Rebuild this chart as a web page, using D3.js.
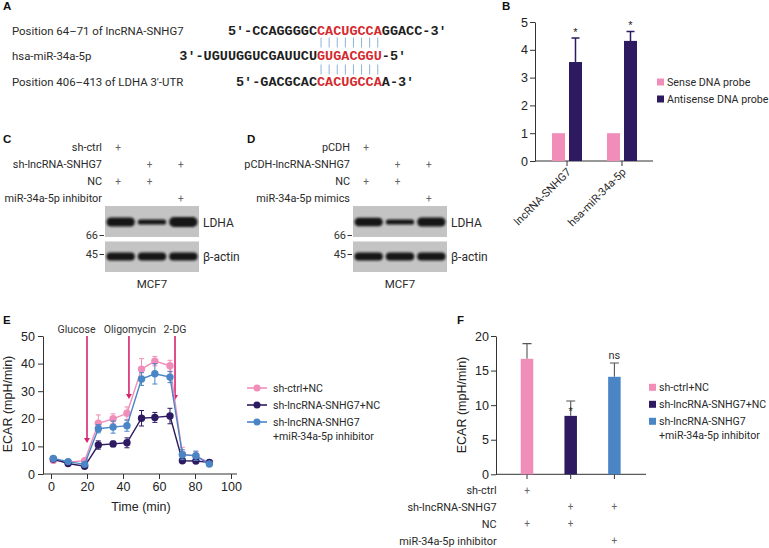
<!DOCTYPE html>
<html><head><meta charset="utf-8">
<script src="https://cdn.jsdelivr.net/npm/d3@7"></script>
<style>body{margin:0;background:#fff} svg{display:block}</style>
</head><body>
<svg id="chart" width="769" height="548"></svg>
<script>
// ================= DATA =================
// Panel A
const seqLabels = ["Position 64–71 of lncRNA-SNHG7", "hsa-miR-34a-5p", "Position 406–413 of LDHA 3′-UTR"];
const seqPrefix = ["5′-CCAGGGGC", "3′-UGUUGGUCGAUUCU", "5′-GACGCAC"];
const seqSeed   = ["CACUGCCA", "GUGACGGU", "CACUGCCA"];
const seqSuffix = ["GGACC-3′", "-5′", "A-3′"];

// Panel B
const bCategories = ["lncRNA-SNHG7", "hsa-miR-34a-5p"];
const bSeries = ["Sense DNA probe", "Antisense DNA probe"];
const bSense = [1, 1];
const bAntisense = [3.56, 4.32];
const bAntisenseErr = [0.86, 0.34];
const bSig = ["*", "*"];
const bTicks = [0, 1, 2, 3, 4, 5];

// Panels C / D (western blots)
const cRows = ["sh-ctrl", "sh-lncRNA-SNHG7", "NC", "miR-34a-5p inhibitor"];
const cPlus = [[1,0,0],[0,1,1],[1,1,0],[0,0,1]];
const cLDHA = [1.0, 0.58, 1.1];
const cActin = [0.95, 0.95, 0.95];
const dRows = ["pCDH", "pCDH-lncRNA-SNHG7", "NC", "miR-34a-5p mimics"];
const dPlus = [[1,0,0],[0,1,1],[1,1,0],[0,0,1]];
const dLDHA = [0.95, 0.58, 1.0];
const dActin = [0.95, 0.95, 0.95];
const blotProteins = ["LDHA", "β-actin"];
const blotMarkers = ["66", "45"];
const cellLine = "MCF7";

// Panel E
const eTime = [1.3, 9.5, 18.7, 26.3, 34.5, 42.2, 50.3, 57.7, 66.1, 73, 80.5, 88];
const eCtrl    = [5.0, 4.3, 4.8, 18.4, 20.0, 22.0, 38.0, 40.9, 39.2, 7.2, 6.5, 4.1];
const eCtrlErr = [1.0, 0.6, 0.7, 3.0, 1.8, 2.3, 3.8, 1.7, 2.0, 2.5, 1.5, 0.6];
const eSh      = [5.4, 3.8, 2.8, 10.5, 10.9, 11.3, 20.2, 20.5, 21.0, 4.8, 4.7, 4.2];
const eShErr   = [0.8, 0.5, 0.6, 1.5, 1.0, 1.8, 2.8, 1.8, 2.8, 0.5, 0.5, 0.5];
const eInh     = [5.6, 4.5, 3.5, 16.4, 17.0, 17.5, 34.4, 36.3, 35.1, 7.0, 6.6, 3.6];
const eInhErr  = [0.8, 0.6, 0.6, 1.5, 2.2, 2.0, 2.3, 3.7, 2.0, 1.8, 1.7, 0.7];
const eNames = ["sh-ctrl+NC", "sh-lncRNA-SNHG7+NC", "sh-lncRNA-SNHG7\n+miR-34a-5p inhibitor"];
const eInjections = ["Glucose", "Oligomycin", "2-DG"];
const eInjTime = [20, 43.3, 68.9];
const eArrowTip = [11.2, 27.2, 26.8];
const eXTicks = [0, 20, 40, 60, 80, 100];
const eYTicks = [0, 10, 20, 30, 40, 50];

// Panel F
const fGroups = ["sh-ctrl+NC", "sh-lncRNA-SNHG7+NC", "sh-lncRNA-SNHG7\n+miR-34a-5p inhibitor"];
const fValues = [16.7, 8.45, 14.1];
const fErr = [2.2, 2.15, 2.0];
const fSig = ["", "*", "ns"];
const fRows = ["sh-ctrl", "sh-lncRNA-SNHG7", "NC", "miR-34a-5p inhibitor"];
const fPlus = [[1,0,0],[0,1,1],[1,1,0],[0,0,1]];
const fYTicks = [0, 5, 10, 15, 20];

// ================= STYLE =================
const PINK = "#F08DB9", NAVY = "#2D1A60", BLUE = "#4A85C6", MAGENTA = "#D8246E", RED = "#D42A2E";
const SANS = "Roboto, 'Noto Sans', 'DejaVu Sans', sans-serif";
const ARIAL = "'Liberation Sans', Arial, sans-serif";
const MONO = "'Liberation Mono', 'Courier New', monospace";
const TXT = "#2a2a2a";
const fmtInt = d3.format("d");

const svg = d3.select("#chart");
const defs = svg.append("defs");
defs.append("filter").attr("id","blur").attr("x","-20%").attr("y","-60%").attr("width","140%").attr("height","220%")
  .append("feGaussianBlur").attr("stdDeviation", 1.1);

function letter(t, x, y) {
  svg.append("text").attr("x", x).attr("y", y).text(t)
    .attr("font-family", ARIAL).attr("font-weight", "bold").attr("font-size", 11.5).attr("fill", "#111");
}
function styleAxis(g, fs) {
  g.attr("font-family", ARIAL).attr("font-size", fs);
  g.select(".domain").attr("stroke", "#333").attr("stroke-width", 1);
  g.selectAll(".tick line").attr("stroke", "#333");
  g.selectAll(".tick text").attr("fill", "#222");
}
function label(g, t, x, y, opts = {}) {
  return g.append("text").attr("x", x).attr("y", y).text(t)
    .attr("font-family", opts.font || SANS).attr("font-size", opts.size || 10.8)
    .attr("fill", opts.fill || TXT).attr("text-anchor", opts.anchor || "start");
}

// ================= PANEL A =================
letter("A", 3, 10);
{
  const g = svg.append("g");
  const seedX = 317, charW = 8.1;
  const base = [34.5, 60, 85.5];
  seqLabels.forEach((lab, i) => {
    label(g, lab, 12, base[i], { size: 11.4 });
    const chars = [];
    const pre = [...seqPrefix[i]];
    pre.forEach((c, k) => chars.push({ c, idx: k - pre.length, red: false }));
    [...seqSeed[i]].forEach((c, k) => chars.push({ c, idx: k, red: true }));
    [...seqSuffix[i]].forEach((c, k) => chars.push({ c, idx: 8 + k, red: false }));
    g.append("g").selectAll("text").data(chars).join("text")
      .attr("x", d => seedX + (d.idx + 0.5) * charW).attr("y", base[i])
      .attr("text-anchor", "middle").text(d => d.c)
      .attr("font-family", MONO).attr("font-weight", "bold").attr("font-size", 13.5)
      .attr("fill", d => d.red ? RED : "#1e1e1e");
  });
  const pairs = [[37.5, 47.5], [64.5, 74.5]];
  pairs.forEach(([y1, y2]) => {
    g.append("g").selectAll("line").data(d3.range(seqSeed[0].length)).join("line")
      .attr("x1", k => seedX + (k + 0.5) * charW).attr("x2", k => seedX + (k + 0.5) * charW)
      .attr("y1", y1).attr("y2", y2).attr("stroke", "#8DB3D9").attr("stroke-width", 1);
  });
}

// ================= PANEL B =================
letter("B", 502, 10);
{
  const g = svg.append("g");
  const y = d3.scaleLinear().domain([0, 5]).range([161, 22]);
  const x = d3.scaleBand().domain(bCategories).range([539.5, 649.5]);
  const x1 = d3.scaleBand().domain(bSeries).range([-15, 15]).paddingInner(0.235);
  const ya = g.append("g").attr("transform", "translate(535,0)")
    .call(d3.axisLeft(y).tickValues(bTicks).tickFormat(fmtInt).tickSize(5).tickPadding(2).tickSizeOuter(0));
  styleAxis(ya, 12.5);
  g.append("line").attr("x1", 535).attr("x2", 653).attr("y1", 161).attr("y2", 161).attr("stroke", "#333");
  g.selectAll(".xt").data(bCategories).join("line").attr("class", "xt")
    .attr("x1", d => x(d) + x.bandwidth() / 2).attr("x2", d => x(d) + x.bandwidth() / 2)
    .attr("y1", 161).attr("y2", 166).attr("stroke", "#333");
  g.selectAll(".xl").data(bCategories).join("text").attr("class", "xl")
    .attr("transform", d => `translate(${x(d) + x.bandwidth() / 2 + 2},${170}) rotate(-45)`)
    .attr("text-anchor", "end").attr("dy", "0.35em").text(d => d)
    .attr("font-family", SANS).attr("font-size", 11).attr("fill", TXT);
  const bars = [];
  bCategories.forEach((c, i) => {
    bars.push({ c, s: bSeries[0], v: bSense[i], e: 0, color: PINK, sig: "" });
    bars.push({ c, s: bSeries[1], v: bAntisense[i], e: bAntisenseErr[i], color: NAVY, sig: bSig[i] });
  });
  const cx = d => x(d.c) + x.bandwidth() / 2 + x1(d.s) + x1.bandwidth() / 2;
  g.selectAll(".eb").data(bars.filter(d => d.e > 0)).join("path").attr("class", "eb")
    .attr("d", d => `M${cx(d)},${y(d.v)}V${y(d.v + d.e)}M${cx(d) - 4},${y(d.v + d.e)}H${cx(d) + 4}`)
    .attr("stroke", d => d.color).attr("stroke-width", 1.5).attr("fill", "none");
  g.selectAll(".bar").data(bars).join("rect").attr("class", "bar")
    .attr("x", d => x(d.c) + x.bandwidth() / 2 + x1(d.s)).attr("width", x1.bandwidth())
    .attr("y", d => y(d.v)).attr("height", d => y(0) - y(d.v)).attr("fill", d => d.color);
  g.selectAll(".sig").data(bars.filter(d => d.sig)).join("text").attr("class", "sig")
    .attr("x", cx).attr("y", d => y(d.v + d.e) - 2.5).attr("text-anchor", "middle").text(d => d.sig)
    .attr("font-family", ARIAL).attr("font-size", 11).attr("fill", "#222");
  const leg = g.append("g");
  [PINK, NAVY].forEach((col, i) => {
    const cy = 82 + i * 17;
    leg.append("rect").attr("x", 657).attr("y", cy - 3.5).attr("width", 7).attr("height", 7).attr("fill", col);
    label(leg, bSeries[i], 667, cy + 4, { size: 10.7 });
  });
}

// ================= PANELS C & D =================
function blotPanel(opts) {
  const g = svg.append("g");
  const lanes = d3.scaleBand().domain([0, 1, 2]).range([opts.x0, opts.x0 + 94]);
  const rowY = d3.scalePoint().domain(d3.range(opts.rows.length)).range([147, 198]);
  opts.rows.forEach((r, i) => {
    label(g, r, opts.x0 - 3, rowY(i) + 4, { anchor: "end", size: 10.9 });
    opts.plus[i].forEach((p, j) => {
      if (p) label(g, "+", lanes(j) + lanes.bandwidth() / 2 - 2.5, rowY(i) + 3.5, { anchor: "middle", size: 10, fill: "#666" });
    });
  });
  const boxes = [{ y: 206, h: 31, cy: 222, data: opts.ldha, maxH: 9, p: blotProteins[0], m: blotMarkers[0], my: 234.5 },
                 { y: 241.5, h: 30.5, cy: 256.5, data: opts.actin, maxH: 8.5, p: blotProteins[1], m: blotMarkers[1], my: 253.5 }];
  boxes.forEach(b => {
    g.append("rect").attr("x", opts.x0).attr("y", b.y).attr("width", 94).attr("height", b.h).attr("fill", "#c4c4c4");
    g.append("g").attr("filter", "url(#blur)").selectAll("rect").data(b.data).join("rect")
      .attr("x", (d, j) => lanes(j) + 1.5).attr("width", lanes.bandwidth() - 3)
      .attr("y", d => b.cy - b.maxH * d / 2).attr("height", d => b.maxH * d)
      .attr("rx", d => b.maxH * d / 2).attr("fill", "#121212");
    label(g, b.p, opts.x0 + 98, b.cy + 4.5, { size: 12 });
    label(g, b.m, opts.x0 - 7, b.my + 4, { anchor: "end", size: 11, fill: "#333" });
    g.append("line").attr("x1", opts.x0 - 5.5).attr("x2", opts.x0 - 1).attr("y1", b.my + 1).attr("y2", b.my + 1)
      .attr("stroke", "#333").attr("stroke-width", 1);
  });
  label(g, cellLine, opts.x0 + 47, 288, { anchor: "middle", size: 11.5 });
}
letter("C", 3, 142.5);
blotPanel({ x0: 105, rows: cRows, plus: cPlus, ldha: cLDHA, actin: cActin });
letter("D", 247, 142.5);
blotPanel({ x0: 353, rows: dRows, plus: dPlus, ldha: dLDHA, actin: dActin });

// ================= PANEL E =================
letter("E", 3, 323.5);
{
  const g = svg.append("g");
  const x = d3.scaleLinear().domain([0, 100]).range([51, 231]);
  const y = d3.scaleLinear().domain([0, 50]).range([474, 336]);
  const ya = g.append("g").attr("transform", "translate(43,0)")
    .call(d3.axisLeft(y).tickValues(eYTicks).tickFormat(fmtInt).tickSize(5).tickPadding(3).tickSizeOuter(0));
  styleAxis(ya, 12.5);
  const xa = g.append("g").attr("transform", "translate(0,474)")
    .call(d3.axisBottom(x).tickValues(eXTicks).tickFormat(fmtInt).tickSize(5).tickPadding(3).tickSizeOuter(0));
  styleAxis(xa, 12.5);
  xa.select(".domain").remove();
  g.append("line").attr("x1", 43).attr("x2", 237).attr("y1", 474).attr("y2", 474).attr("stroke", "#333");
  g.append("text").attr("x", 141).attr("y", 511).attr("text-anchor", "middle").text("Time (min)")
    .attr("font-family", ARIAL).attr("font-size", 12.5).attr("fill", "#222");
  g.append("text").attr("transform", "translate(11.5,404) rotate(-90)").attr("text-anchor", "middle")
    .text("ECAR (mpH/min)").attr("font-family", ARIAL).attr("font-size", 12.5).attr("fill", "#222");

  // injection arrows
  const labelDx = [-10.5, 1, 0];
  eInjections.forEach((name, i) => {
    const ax = x(eInjTime[i]);
    const tip = y(eArrowTip[i]);
    g.append("line").attr("x1", ax).attr("x2", ax).attr("y1", y(50)).attr("y2", tip - 4)
      .attr("stroke", MAGENTA).attr("stroke-width", 1.6);
    g.append("path").attr("d", `M${ax - 3},${tip - 5}L${ax + 3},${tip - 5}L${ax},${tip}Z`).attr("fill", MAGENTA);
    label(g, name, ax + labelDx[i], 333, { anchor: "middle", size: 10.5, fill: "#333" });
  });

  const series = [
    { name: eNames[0], v: eCtrl, e: eCtrlErr, color: PINK },
    { name: eNames[1], v: eSh, e: eShErr, color: NAVY },
    { name: eNames[2], v: eInh, e: eInhErr, color: BLUE }
  ];
  const line = d3.line().x(d => x(d.t)).y(d => y(d.v));
  series.forEach(s => {
    const pts = eTime.map((t, i) => ({ t, v: s.v[i], e: s.e[i] }));
    const sg = g.append("g");
    sg.selectAll(".err").data(pts).join("path").attr("class", "err")
      .attr("d", d => `M${x(d.t)},${y(d.v - d.e)}V${y(d.v + d.e)}M${x(d.t) - 2.5},${y(d.v + d.e)}H${x(d.t) + 2.5}M${x(d.t) - 2.5},${y(d.v - d.e)}H${x(d.t) + 2.5}`)
      .attr("stroke", s.color).attr("stroke-width", 1).attr("fill", "none");
    sg.append("path").datum(pts).attr("d", line).attr("fill", "none").attr("stroke", s.color).attr("stroke-width", 1.4);
    sg.selectAll("circle").data(pts).join("circle").attr("cx", d => x(d.t)).attr("cy", d => y(d.v))
      .attr("r", 3.7).attr("fill", s.color);
  });

  // legend
  const lg = g.append("g");
  series.forEach((s, i) => {
    const cy = 388 + i * 17;
    lg.append("line").attr("x1", 247).attr("x2", 267).attr("y1", cy).attr("y2", cy).attr("stroke", s.color).attr("stroke-width", 1.6);
    lg.append("circle").attr("cx", 257).attr("cy", cy).attr("r", 3.5).attr("fill", s.color);
    s.name.split("\n").forEach((ln, k) => label(lg, ln, 273, cy + 4 + k * 13.5, { size: 10.6 }));
  });
}

// ================= PANEL F =================
letter("F", 457, 323.5);
{
  const g = svg.append("g");
  const y = d3.scaleLinear().domain([0, 20]).range([474.3, 336]);
  const x = d3.scaleBand().domain(fGroups).range([505.15, 636.25]).paddingInner(0.714).paddingOuter(0.357);
  const colors = [PINK, NAVY, BLUE];
  const ya = g.append("g").attr("transform", "translate(496,0)")
    .call(d3.axisLeft(y).tickValues(fYTicks).tickFormat(fmtInt).tickSize(5).tickPadding(2).tickSizeOuter(0));
  styleAxis(ya, 12.5);
  g.append("line").attr("x1", 496).attr("x2", 646).attr("y1", 474.3).attr("y2", 474.3).attr("stroke", "#333");
  const cx = d => x(d) + x.bandwidth() / 2;
  g.selectAll(".xt").data(fGroups).join("line").attr("class", "xt")
    .attr("x1", cx).attr("x2", cx).attr("y1", 474.3).attr("y2", 479).attr("stroke", "#333");
  g.append("text").attr("transform", "translate(465.5,405) rotate(-90)").attr("text-anchor", "middle")
    .text("ECAR (mpH/min)").attr("font-family", ARIAL).attr("font-size", 12.5).attr("fill", "#222");
  g.selectAll(".eb").data(fGroups).join("path").attr("class", "eb")
    .attr("d", (d, i) => `M${cx(d)},${y(fValues[i])}V${y(fValues[i] + fErr[i])}M${cx(d) - 4.5},${y(fValues[i] + fErr[i])}H${cx(d) + 4.5}`)
    .attr("stroke", "#555").attr("stroke-width", 1.1).attr("fill", "none");
  g.selectAll(".bar").data(fGroups).join("rect").attr("class", "bar")
    .attr("x", d => x(d)).attr("width", x.bandwidth())
    .attr("y", (d, i) => y(fValues[i])).attr("height", (d, i) => y(0) - y(fValues[i]))
    .attr("fill", (d, i) => colors[i]);
  fGroups.forEach((gname, i) => {
    if (fSig[i] === "*") label(g, "*", cx(gname), y(fValues[i]) - 1, { anchor: "middle", font: ARIAL, size: 11, fill: "#222" });
    else if (fSig[i]) label(g, fSig[i], cx(gname), y(fValues[i] + fErr[i]) - 3.7, { anchor: "middle", size: 11, fill: "#333" });
  });
  // legend
  const lg = g.append("g");
  fGroups.forEach((name, i) => {
    const cy = 387.3 + i * 17;
    lg.append("rect").attr("x", 649).attr("y", cy - 3.5).attr("width", 7).attr("height", 7).attr("fill", colors[i]);
    name.split("\n").forEach((ln, k) => label(lg, ln, 659, cy + 4 + k * 13.5, { size: 10.6 }));
  });
  // treatment table
  const rowY = d3.scalePoint().domain(d3.range(fRows.length)).range([490, 540.7]);
  fRows.forEach((r, i) => {
    label(g, r, 496.7, rowY(i) + 4, { anchor: "end", size: 10.9 });
    fPlus[i].forEach((p, j) => { if (p) label(g, "+", cx(fGroups[j]), rowY(i) + 3.5, { anchor: "middle", size: 10, fill: "#666" }); });
  });
}
</script>
</body></html>
